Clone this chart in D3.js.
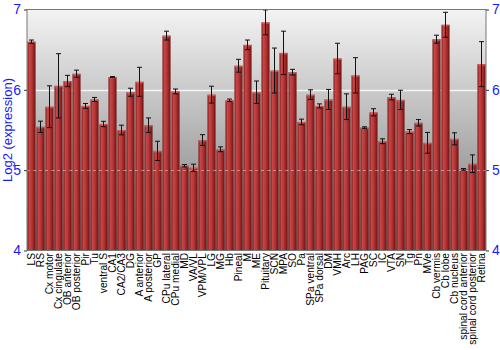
<!DOCTYPE html>
<html><head><meta charset="utf-8">
<script src="https://cdn.jsdelivr.net/npm/d3@7"></script>
<style>html,body{margin:0;padding:0;background:#fff;}svg{display:block;font-family:"Liberation Sans",Arial,sans-serif;}</style>
</head><body>
<svg id="c" width="500" height="350"></svg>
<script>
const categories = ["LS","RS","Cx motor","Cx cingulate","OB anterior","OB posterior","Pir","Tu","ventral S","CA1","CA2/CA3","DG","A anterior","A posterior","GP","CPu lateral","CPu medial","MD","VA/VL","VPM/VPL","LG","MG","Hb","Pineal","M","ME","Pituitary","SCN","MPA","SO","Pa","SPa ventral","SPa dorsal","DM","VMH","Arc","LH","PAG","SC","IC","VTA","SN","Tg","Pn","MVe","Cb vermis","Cb lobe","Cb nucleus","spinal cord anterior","spinal cord posterior","Retina"];
const values = [6.60,5.54,5.79,6.05,6.11,6.20,5.80,5.88,5.575,6.16,5.50,5.97,6.10,5.56,5.24,6.675,5.98,5.055,5.03,5.375,5.94,5.26,5.87,6.30,6.56,5.97,6.84,6.24,6.46,6.22,5.60,5.94,5.80,5.88,6.39,5.79,6.18,5.53,5.72,5.36,5.91,5.875,5.48,5.59,5.34,6.63,6.81,5.39,5.01,5.08,6.32];
const errors = [0.02,0.07,0.26,0.40,0.07,0.045,0.03,0.025,0.033,0.005,0.06,0.05,0.18,0.09,0.12,0.055,0.03,0.015,0.045,0.067,0.105,0.03,0.015,0.08,0.06,0.14,0.155,0.28,0.27,0.035,0.035,0.06,0.025,0.125,0.19,0.16,0.22,0.01,0.045,0.03,0.035,0.12,0.025,0.04,0.13,0.05,0.155,0.075,0.01,0.11,0.28];
const yTicks = [4,5,6,7];
const yLabel = "Log2 (expression)";

const svg = d3.select("#c");
const L = 27, R = 486, T = 9.5, B = 250.5;
const x = d3.scaleBand().domain(categories).range([L, R]).paddingInner(0.1).paddingOuter(0.05);
const y = d3.scaleLinear().domain([4, 7]).range([B, T]);

const defs = svg.append("defs");
const bg = defs.append("linearGradient").attr("id","bg").attr("x1",0).attr("y1",0).attr("x2",0).attr("y2",1);
bg.append("stop").attr("offset","0%").attr("stop-color","#f3f3f3");
bg.append("stop").attr("offset","35%").attr("stop-color","#c8c8c8");
bg.append("stop").attr("offset","100%").attr("stop-color","#777");
const bar = defs.append("linearGradient").attr("id","bar").attr("x1",0).attr("y1",0).attr("x2",1).attr("y2",0);
bar.append("stop").attr("offset","0%").attr("stop-color","#7d1c1c");
bar.append("stop").attr("offset","25%").attr("stop-color","#c44646");
bar.append("stop").attr("offset","55%").attr("stop-color","#b83434");
bar.append("stop").attr("offset","100%").attr("stop-color","#6a1212");

svg.append("rect").attr("x",L).attr("y",T).attr("width",R-L).attr("height",B-T).attr("fill","url(#bg)");

// grid under bars
svg.append("g").selectAll("line").data([5,6]).join("line")
  .attr("x1",L).attr("x2",R).attr("y1",d=>Math.round(y(d))+0.5).attr("y2",d=>Math.round(y(d))+0.5)
  .attr("stroke","#fff").attr("stroke-opacity",d=>d===6?0.8:0.6).attr("stroke-width",d=>d===6?1.5:1)
  .attr("stroke-dasharray",d=>d===6?null:"4,2");

const data = categories.map((c,i)=>({c, v: values[i], e: errors[i]}));
svg.append("g").selectAll("rect").data(data).join("rect")
  .attr("x",d=>x(d.c)).attr("width",x.bandwidth())
  .attr("y",d=>y(d.v)).attr("height",d=>B-y(d.v))
  .attr("fill","url(#bar)");
svg.append("g").selectAll("rect").data(data).join("rect")
  .attr("x",d=>x(d.c)).attr("width",x.bandwidth())
  .attr("y",d=>y(d.v)).attr("height",1.5)
  .attr("fill","#d86a6a").attr("opacity",0.7);

// grid over bars (faint dashed)
svg.append("g").selectAll("line").data([5]).join("line")
  .attr("x1",L).attr("x2",R).attr("y1",d=>Math.round(y(d))+0.5).attr("y2",d=>Math.round(y(d))+0.5)
  .attr("stroke","#fff").attr("stroke-opacity",0.4).attr("stroke-dasharray","3,3");

// error bars
const eg = svg.append("g").attr("stroke","#111").attr("stroke-width",1);
data.forEach(d=>{
  const cx = x(d.c)+x.bandwidth()/2;
  eg.append("line").attr("x1",cx).attr("x2",cx).attr("y1",y(d.v+d.e)).attr("y2",y(d.v-d.e));
  eg.append("line").attr("x1",cx-2.5).attr("x2",cx+2.5).attr("y1",y(d.v+d.e)).attr("y2",y(d.v+d.e));
  eg.append("line").attr("x1",cx-2.5).attr("x2",cx+2.5).attr("y1",y(d.v-d.e)).attr("y2",y(d.v-d.e));
});

// frame
svg.append("rect").attr("x",L).attr("y",T).attr("width",R-L).attr("height",B-T)
  .attr("fill","none").attr("stroke","#777").attr("stroke-width",1);

const ya = svg.append("g").attr("transform",`translate(${L},0)`)
  .call(d3.axisLeft(y).tickValues(yTicks).tickSize(3).tickPadding(3).tickFormat(d3.format("d")));
ya.select(".domain").remove();
ya.selectAll("line").attr("stroke","#333");
ya.selectAll("text").attr("fill","#1a1aff").attr("font-size",14);
const yb = svg.append("g").attr("transform",`translate(${R},0)`)
  .call(d3.axisRight(y).tickValues(yTicks).tickSize(3).tickPadding(3).tickFormat(d3.format("d")));
yb.select(".domain").remove();
yb.selectAll("line").attr("stroke","#333");
yb.selectAll("text").attr("fill","#1a1aff").attr("font-size",14);

svg.append("text").attr("transform",`translate(12,${(T+B)/2}) rotate(-90)`)
  .attr("text-anchor","middle").attr("fill","#1a1aff").attr("font-size",13).text(yLabel);

// x labels
svg.append("g").selectAll("text").data(categories).join("text")
  .attr("transform",d=>`translate(${x(d)+x.bandwidth()/2+3.8},${B+2.5}) rotate(-90)`)
  .attr("text-anchor","end").attr("font-size",10.2).attr("fill","#000").text(d=>d);
</script>
</body></html>
